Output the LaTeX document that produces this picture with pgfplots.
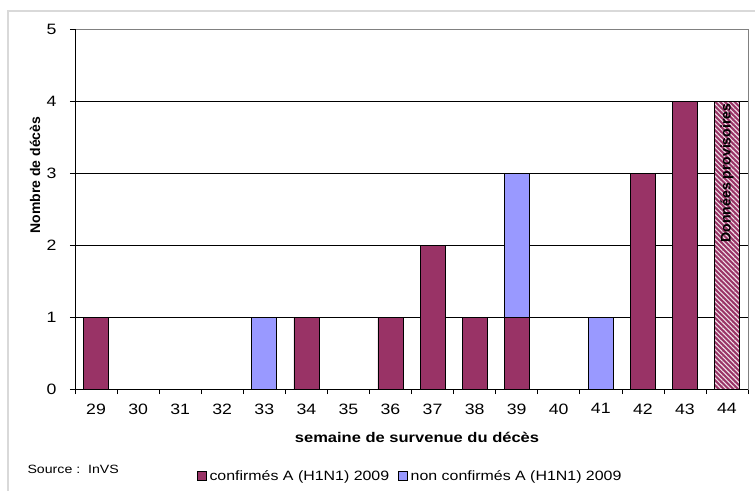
\documentclass[border=0pt]{standalone}
\usepackage{pgfplots}
\pgfplotsset{compat=1.18}
\usepackage{fontspec}
\setmainfont{Liberation Sans}[FakeStretch=1.18]
\newfontfamily\plainsans{Liberation Sans}
\usetikzlibrary{patterns.meta}
\definecolor{plum}{HTML}{993366}
\definecolor{lav}{HTML}{9999FF}
\begin{document}
\begin{tikzpicture}
\useasboundingbox (0pt,0pt) rectangle (755pt,490pt);
\draw[black!15, line width=1.5pt] (8pt,-20pt) rectangle (790pt,479pt);
\begin{axis}[
  at={(75pt,101pt)}, anchor=south west, scale only axis,
  width=673pt, height=360pt,
  ybar stacked, bar width=25pt,
  xmin=-0.5, xmax=15.5, ymin=0, ymax=5,
  xtick={-0.5,0.5,...,15.5},
  x tick label as interval,
  xticklabels={29,30,31,32,33,34,35,36,37,38,39,40,41,42,43,44},
  ytick={0,1,2,3,4,5},
  xtick pos=lower, ytick pos=left,
  /pgf/number format/assume math mode=true,
  tick align=outside, major tick length=5pt,
  tick style={black, line width=0.6pt},
  axis line style={black!50, line width=0.8pt},
  ymajorgrids, grid style={black, line width=0.6pt},
  tick label style={font=\fontsize{15}{15}\selectfont},
  xticklabel style={yshift=-6pt},
  yticklabel style={xshift=-10pt},
  legend style={at={(0.181,-0.2417)}, anchor=west, draw=none, fill=none,
    legend columns=2, font=\fontsize{13.5}{16}\selectfont,
    /tikz/every odd column/.append style={column sep=1pt},
    /tikz/every even column/.append style={column sep=7pt},
    inner sep=0pt},
  legend image code/.code={\draw[#1, draw=black, line width=0.5pt] (0pt,-4.5pt) rectangle (9pt,4.5pt);},
  every axis plot/.append style={draw=black, line width=0.6pt},
]
\addplot[fill=plum] coordinates {(0,1) (1,0) (2,0) (3,0) (4,0) (5,1) (6,0) (7,1) (8,2) (9,1) (10,1) (11,0) (12,0) (13,3) (14,4) (15,0)};
\addlegendentry{confirmés A (H1N1) 2009}
\addplot[fill=lav] coordinates {(0,0) (1,0) (2,0) (3,0) (4,1) (5,0) (6,0) (7,0) (8,0) (9,0) (10,2) (11,0) (12,1) (13,0) (14,0) (15,0)};
\addlegendentry{non confirmés A (H1N1) 2009}
\addplot[forget plot, fill=plum, postaction={pattern={Lines[angle=-45,distance=3.4pt,line width=1.1pt]}, pattern color=white!85!plum}] coordinates {(0,0) (1,0) (2,0) (3,0) (4,0) (5,0) (6,0) (7,0) (8,0) (9,0) (10,0) (11,0) (12,0) (13,0) (14,0) (15,4)};
\draw[black, line width=0.8pt] (rel axis cs:0,0) -- (rel axis cs:0,1);
\draw[black, line width=0.8pt] (rel axis cs:0,0) -- (rel axis cs:1,0);
\coordinate (dp) at (axis cs:15,3.0);
\end{axis}
\node[rotate=90, font=\fontsize{14}{14}\plainsans\bfseries] at (dp) {Données provisoires};
\node[rotate=90, font=\fontsize{14}{14}\plainsans\bfseries] at (35pt,315pt) {Nombre de décès};
\node[font=\fontsize{14}{14}\selectfont\bfseries] at (417pt,53pt) {semaine de survenue du décès};
\node[anchor=west, font=\fontsize{12}{13}\selectfont] at (24pt,21pt) {Source :\ \ InVS};
\end{tikzpicture}
\end{document}
